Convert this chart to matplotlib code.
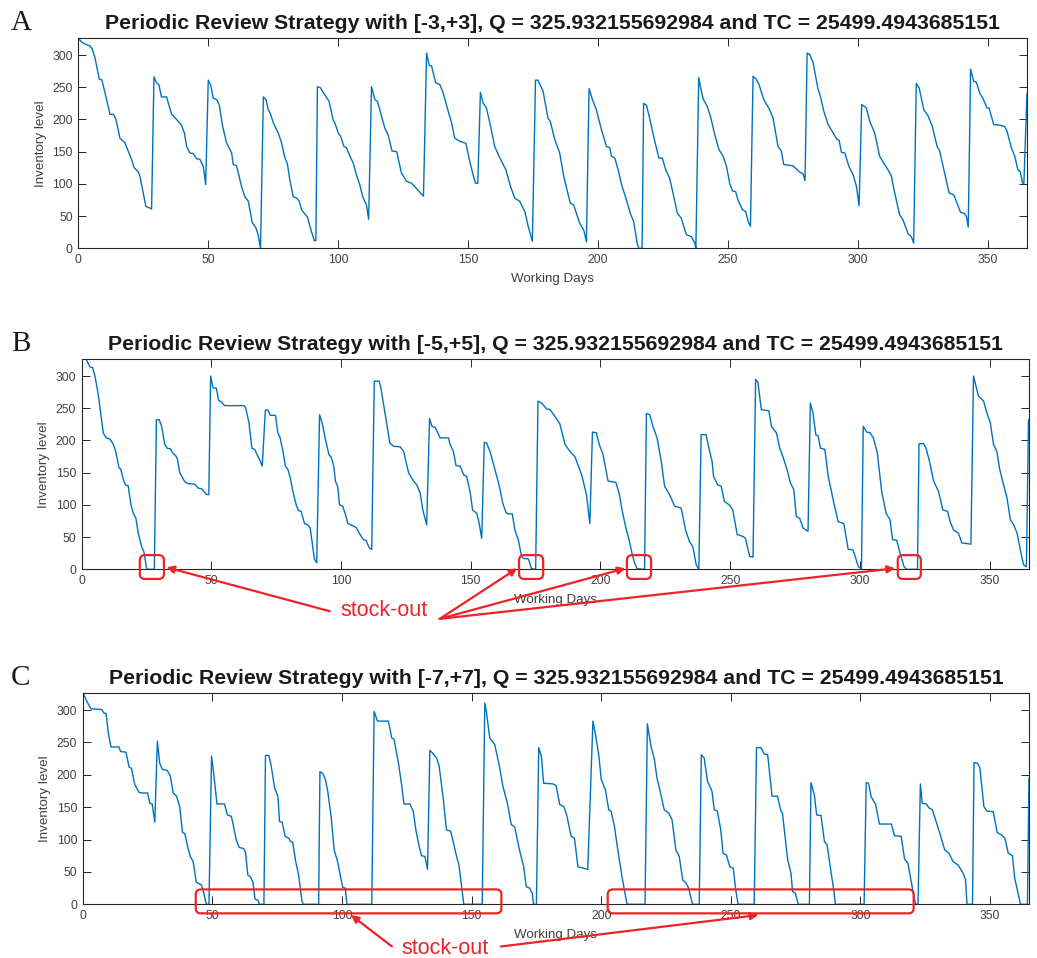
import matplotlib
matplotlib.use('Agg')
import matplotlib.pyplot as plt
from matplotlib.patches import FancyBboxPatch

# Order quantity and total cost shown in every title
Q = 325.932155692984
TC = 25499.4943685151

WINDOWS = ['[-3,+3]', '[-5,+5]', '[-7,+7]']
PANEL_LETTERS = ['A', 'B', 'C']
X_TICKS = [0, 50, 100, 150, 200, 250, 300, 350]
Y_TICKS = [0, 50, 100, 150, 200, 250, 300]

# (working day, inventory level)
LEVELS_A = [
    (0, 326), (1.3, 320), (3.2, 316), (4.5, 314), (5.4, 309), (6.4, 296), (8.1, 262), (9, 262),
    (10.3, 241), (12.2, 208), (13.5, 208), (14.5, 200), (16, 171), (17.9, 164), (20.5, 138),
    (21.5, 125), (23, 119), (23.7, 112), (26, 65), (27.8, 62), (28.2, 61),
    (29.1, 266), (30.1, 257), (31, 254), (32, 235), (34, 235), (34.6, 226), (35.9, 208), (37.8, 200),
    (39.7, 191), (40.8, 179), (41.7, 158), (42.9, 148), (44.2, 147), (45.5, 139), (46.8, 138),
    (48.1, 127), (49, 99),
    (50, 261), (50.9, 254), (51.9, 233), (53.2, 231), (54.2, 223), (55.5, 190), (57, 164), (59, 148),
    (59.6, 130), (60.9, 128), (62.8, 96), (64.1, 80), (65.4, 73), (66.9, 40), (68.3, 32), (69.2, 21),
    (70.1, 0),
    (71.2, 235), (72.2, 231), (73.1, 215), (74, 208), (75, 195), (76.9, 179), (78.2, 164), (79.5, 140),
    (80.4, 132), (81.4, 106), (82.7, 80), (84, 78), (85, 73), (85.9, 60), (87.4, 52), (88.1, 49),
    (89.7, 26), (90.8, 12), (91.4, 12),
    (92, 251), (93.2, 249), (94.2, 242), (95.5, 234), (96.5, 228), (98.1, 198), (98.7, 195), (100, 179),
    (100.9, 174), (102.2, 158), (103.2, 156), (104.5, 143), (105.8, 132), (107, 114), (108.3, 99),
    (109.4, 80), (110.9, 67), (111.7, 45),
    (112.8, 251), (114.1, 231), (115.1, 228), (116, 215), (117.9, 187), (119.2, 176), (120.7, 151),
    (122.5, 150), (124.3, 117), (126.3, 104), (128.2, 101), (130.1, 93), (131.4, 87), (132.8, 81),
    (134, 303), (135, 284), (135.9, 283), (137.5, 257), (139.1, 254), (140.4, 241), (142.3, 213),
    (143.6, 195), (144.8, 171), (146.8, 166), (149.1, 163), (150.6, 135), (151.9, 114), (152.8, 101),
    (153.7, 101),
    (154.7, 242), (155.7, 226), (157, 218), (158.6, 190), (160.2, 158), (162.2, 140), (164.5, 122),
    (166.3, 96), (167.9, 78), (169.8, 73), (171.8, 57), (173.1, 34), (174.7, 11),
    (175.9, 261), (176.9, 261), (178.2, 249), (178.8, 244), (180.7, 202), (181.6, 197), (183.3, 169),
    (185.2, 148), (186.8, 111), (189.3, 70), (190.6, 67), (192.9, 39), (194.5, 28), (195.5, 10),
    (196.5, 248), (197.8, 231), (199.3, 215), (201.3, 184), (203.2, 158), (204.5, 156), (205.1, 143),
    (206.4, 140), (207.7, 122), (209, 99), (210.9, 75), (212.4, 54), (213.7, 41), (215, 8),
    (215.6, 0), (216.9, 0),
    (217.5, 225), (218.6, 222), (219.8, 202), (221.8, 166), (223.4, 140), (224.7, 140), (226, 122),
    (227.5, 109), (228.8, 86), (230.5, 54), (232, 47), (233.3, 29), (234, 21), (235.9, 18),
    (237.2, 8), (237.6, 0),
    (238.7, 265), (239.7, 244), (240.5, 231), (241.9, 221), (243.2, 205), (244.9, 176), (246.5, 153),
    (248.1, 143), (249.4, 127), (250.6, 101), (251.7, 89), (252.9, 88), (253.8, 75), (255.5, 60),
    (256.8, 57), (257.7, 42), (258.6, 34),
    (259.6, 267), (260.9, 262), (261.9, 254), (263.7, 231), (266, 215), (267.3, 202), (269.2, 158),
    (270.5, 151), (271.4, 130), (273.1, 129), (275, 128), (276.3, 123), (277.6, 118), (278.8, 116),
    (279.6, 105),
    (280.4, 303), (281.4, 301), (282.7, 288), (284.6, 247), (285.5, 236), (286.8, 213), (288.5, 192),
    (290.4, 179), (291.9, 169), (292.7, 168), (293.6, 149), (294.9, 148), (296.5, 127), (298.1, 114),
    (299.4, 96), (300.4, 66),
    (301.4, 223), (303.2, 218), (304.5, 197), (306.4, 179), (308.3, 143), (309.9, 132), (311.5, 122),
    (312.8, 112), (314.1, 86), (316, 52), (317.3, 44), (319.2, 23), (320.5, 18), (321.4, 8),
    (322.4, 256), (323.5, 249), (325.3, 215), (327, 205), (328.6, 189), (330.4, 158), (331.4, 151),
    (333.3, 117), (335, 86), (336.8, 83), (337.8, 73), (339.4, 56), (341, 54), (341.7, 49), (342.4, 33),
    (343.3, 278), (344.5, 259), (345.5, 258), (346.8, 241), (348.1, 232), (349.6, 218), (350.4, 218),
    (352.2, 192), (354.5, 191), (356.4, 189), (357.3, 182), (359, 156), (360.3, 143), (361.5, 122),
    (362.4, 119), (363.3, 101), (363.8, 101), (365, 240),
]

LEVELS_B = [
    (0, 326), (1.7, 326), (3.2, 314), (4.2, 313), (5.1, 300), (6.4, 271), (7.4, 240), (8.3, 212),
    (9.4, 204), (10.9, 202), (12.2, 194), (13.1, 183), (14.4, 157), (15, 156), (16.3, 136), (17.1, 130),
    (17.9, 130), (19, 100), (19.9, 87), (20.9, 79), (21.8, 56), (23.1, 35), (24, 27), (25, 2),
    (25.3, 0), (28, 0),
    (28.8, 232), (29.9, 232), (30.8, 222), (32, 194), (32.9, 188), (34.2, 187), (35, 181), (36.3, 176),
    (36.9, 171), (37.8, 150), (39.7, 136), (41, 133), (43.6, 132), (44.9, 126), (46.2, 125),
    (47.1, 121), (48.1, 116), (49, 116),
    (49.7, 300), (50.6, 282), (51.9, 281), (52.8, 262), (53.8, 260), (55.1, 254), (62.6, 254),
    (63.2, 251), (64.5, 227), (65.6, 188), (66.7, 186), (67.6, 178), (68.6, 170), (69.6, 160),
    (70.8, 247), (71.8, 247), (72.7, 239), (74.7, 239), (75.6, 212), (76.5, 204), (77.6, 183),
    (78.5, 160), (79.5, 155), (80.4, 142), (81.4, 121), (82.7, 100), (83.6, 91), (84.6, 90),
    (85.9, 71), (87.2, 69), (88.1, 64), (89.7, 16), (90.6, 10),
    (91.7, 240), (92.7, 227), (94, 201), (95.3, 178), (96.2, 174), (97.2, 160), (97.8, 137),
    (98.7, 128), (99.4, 100), (100.6, 98), (101.7, 85), (102.6, 71), (103.8, 69), (105.8, 65),
    (107, 56), (108.6, 46), (109.6, 45), (110.9, 33), (111.8, 31),
    (112.8, 292), (114.7, 292), (115.4, 280), (117, 240), (118.8, 196), (120.2, 191), (122.8, 190),
    (124.1, 183), (126, 150), (127.9, 137), (129.2, 131), (130.5, 118), (131.5, 92), (133, 69),
    (134.1, 234), (135, 222), (136.3, 220), (138.2, 204), (141.4, 204), (142, 194), (143.3, 183),
    (144.3, 161), (145.9, 160), (147.2, 147), (148.4, 144), (149.7, 121), (150.7, 92), (152.3, 87),
    (153.2, 72), (154.2, 48),
    (155.2, 197), (156.1, 196), (157.4, 183), (159.3, 155), (161, 129), (162.3, 103), (163.6, 88),
    (164.5, 86), (166, 86), (167, 61), (168.3, 46), (169.6, 20), (170.2, 17), (172.2, 16), (172.8, 9),
    (173.4, 1), (175, 0),
    (175.9, 261), (177.3, 258), (179.2, 249), (180.5, 248), (182, 240), (184.3, 226), (186.3, 194),
    (188.2, 183), (190.1, 175), (191.8, 157), (192.7, 147), (194.6, 116), (195.9, 71),
    (196.9, 213), (198.4, 212), (199.5, 194), (201, 178), (202.9, 137), (205.9, 135), (207.2, 118),
    (208.4, 90), (209.7, 66), (211, 46), (212.3, 22), (213.2, 9), (214.1, 1), (217, 0),
    (217.7, 242), (219, 240), (220.2, 222), (221.8, 204), (223.4, 168), (224.7, 129), (226.6, 116),
    (228.6, 98), (231.1, 95), (232.8, 61), (234.3, 43), (235.6, 35), (236.9, 7), (237.9, 0),
    (238.8, 209), (240.7, 209), (241.8, 188), (243, 168), (243.6, 144), (245.2, 131), (246.5, 129),
    (247.8, 105), (249.7, 100), (251, 92), (252.7, 54), (254.9, 51), (255.9, 48), (257.5, 20),
    (258.8, 19),
    (259.8, 295), (260.7, 290), (262, 248), (263.3, 247), (264.9, 246), (265.9, 222), (267.8, 212),
    (269.1, 188), (270.3, 175), (271.9, 155), (273.2, 134), (274.5, 124), (275.5, 82), (276.8, 79),
    (278.1, 64), (280, 59),
    (280.9, 258), (281.9, 243), (283, 209), (283.9, 207), (284.8, 188), (286.5, 186), (287.8, 144),
    (289.7, 108), (291.6, 74), (293.8, 71), (295.5, 31), (297.4, 30), (299.4, 4), (300.6, 1),
    (301.3, 222), (302.6, 213), (303.9, 212), (305.2, 204), (306.7, 181), (308.4, 121), (310.1, 87),
    (311.6, 77), (312.6, 46), (314.2, 45), (315.5, 25), (317, 4), (318, 0), (322.2, 0),
    (322.8, 195), (324.5, 195), (325.5, 188), (326.8, 168), (328.4, 137), (330.3, 121), (332, 92),
    (333.8, 90), (334.8, 74), (336.1, 61), (338, 56), (339.3, 41), (342.8, 39),
    (343.8, 300), (345.7, 269), (347.7, 261), (348.7, 246), (350.3, 227), (351.5, 194), (352.8, 183),
    (353.9, 155), (355.4, 131), (356.7, 111), (358, 77), (359.3, 69), (360.6, 56), (362.1, 25),
    (363.1, 7), (364.2, 4), (365, 232),
]

LEVELS_C = [
    (0, 328), (1.5, 314), (3.2, 302), (7.3, 301), (8.3, 295), (9, 295), (9.9, 264), (10.9, 243),
    (14, 243), (14.6, 236), (16.7, 235), (17.9, 212), (18.8, 210), (20.1, 185), (21.7, 173),
    (22.7, 172), (25, 172), (25.9, 156), (26.8, 155), (27.8, 127),
    (28.8, 252), (29.7, 218), (30.8, 208), (32.6, 207), (33.8, 198), (34.9, 172), (36.2, 167),
    (37.4, 151), (38.5, 111), (39.4, 109), (40.6, 87), (41.5, 74), (42.6, 66), (43.8, 34), (44.9, 32),
    (45.8, 30), (46.7, 17), (47.7, 0), (48.7, 0),
    (49.7, 229), (50.5, 203), (51.8, 155), (54.7, 155), (55.8, 138), (57.3, 136), (57.9, 126),
    (59.2, 100), (60.3, 88), (62.1, 86), (62.8, 80), (63.7, 45), (64.6, 43), (65.6, 35), (66.5, 8),
    (67.6, 6), (68.2, 0), (69.9, 0),
    (70.5, 230), (71.8, 230), (72.7, 214), (74, 180), (75.3, 167), (75.9, 128), (76.9, 127),
    (78.1, 105), (79.5, 102), (80.1, 97), (81, 96), (82.1, 67), (83.3, 45), (84.6, 4), (85.1, 0),
    (91, 0),
    (91.5, 205), (92.6, 202), (93.6, 193), (94.5, 175), (95.8, 136), (97, 84), (98.3, 66), (99.2, 48),
    (100.3, 26), (101.3, 25), (101.9, 0), (111.5, 0),
    (112.4, 298), (113.7, 283), (117.9, 283), (119.2, 257), (120.1, 255), (121.8, 218), (123.1, 182),
    (123.9, 155), (126.2, 155), (127.5, 144), (128.5, 115), (129.8, 89), (130.7, 75), (132, 74),
    (133, 54),
    (133.9, 238), (135.5, 231), (136.5, 226), (137.5, 213), (139.1, 162), (140.3, 115), (141.9, 113),
    (142.9, 97), (144.2, 74), (145.1, 61), (146.4, 20), (147, 0), (154.1, 0),
    (155.1, 311), (155.7, 298), (157, 257), (158.9, 247), (160.6, 216), (162.1, 182), (163.8, 156),
    (165.3, 123), (166.6, 120), (168.3, 87), (170.1, 58), (171.1, 27), (172.4, 25), (173.4, 17),
    (173.9, 0), (175, 0),
    (175.9, 242), (176.9, 229), (177.8, 187), (181.4, 186), (182.6, 183), (184, 154), (185.6, 151),
    (186.8, 136), (188.4, 105), (189.7, 102), (191, 58), (192.9, 56), (194.8, 54),
    (196.8, 283), (198, 257), (199.1, 229), (200, 193), (201.6, 177), (202.9, 146), (203.8, 144),
    (205.1, 120), (206.4, 84), (208, 43), (209.8, 3), (210.2, 0), (216.9, 0),
    (217.8, 279), (219.2, 244), (220.5, 224), (221.5, 195), (222.7, 175), (224.3, 146), (226, 141),
    (227.3, 131), (228.8, 84), (230.1, 74), (231.4, 38), (232.7, 33), (233.7, 25), (235.2, 0),
    (237.8, 0),
    (238.6, 231), (239.7, 226), (241, 190), (242.7, 175), (243.6, 146), (244.8, 144), (246.1, 115),
    (247, 79), (248.3, 76), (249.6, 58), (250.9, 56), (251.9, 22), (252.8, 0), (259, 0),
    (259.9, 242), (261.6, 242), (262.9, 232), (264.2, 231), (265.9, 167), (268, 167), (269.3, 144),
    (269.9, 141), (271.9, 69), (273.2, 48), (273.8, 20), (274.9, 17), (276, 0), (280.3, 0),
    (280.9, 188), (282.2, 169), (283.1, 138), (284.8, 137), (286.1, 97), (287.1, 92), (288.7, 48),
    (289.7, 22), (290.3, 0), (301.4, 0),
    (302.2, 188), (303.1, 187), (304.1, 166), (305.8, 155), (307.3, 124), (311.9, 124), (313.1, 106),
    (315.7, 105), (317, 70), (318.3, 63), (319.6, 35), (320.6, 12), (321.3, 0), (322.2, 0),
    (323.1, 186), (323.8, 156), (325.4, 155), (326.4, 149), (327.7, 146), (329, 130), (330.8, 107),
    (332.5, 84), (334.1, 79), (335.7, 66), (337.6, 61), (339.6, 48), (340.5, 38), (341.1, 0),
    (343.2, 0),
    (343.8, 219), (345, 218), (346, 212), (347.6, 151), (348.8, 144), (351.2, 143), (352.7, 111),
    (354.4, 107), (355.7, 102), (357, 79), (358.6, 75), (359.5, 40), (360.8, 17), (361.7, 0),
    (364.4, 0), (365, 195),
]

# stock-out highlight boxes: (first day, last day, low level, high level)
STOCKOUT_B = [(22.4, 31.7, -15, 22), (168.6, 177.9, -15, 22), (210.2, 219.5, -15, 22),
              (314.6, 323.5, -15, 22)]
STOCKOUT_C = [(43.6, 161.5, -14, 23), (202.5, 320.5, -14, 23)]
# arrow tips (day, level) and where the arrows leave the label (figure fraction)
ARROWS_B = [((32.7, 3), (0.318, 0.362)), ((167.9, 1.5), (0.424, 0.354)),
            ((209.6, 1.5), (0.424, 0.354)), ((313.5, 1.5), (0.424, 0.354))]
ARROWS_C = [((103.5, -16.6), (0.378, 0.012)), ((260.6, -16.6), (0.483, 0.012))]

W, H = 1037, 958
LINE_BLUE = '#0072BD'
RED = '#EE2229'
AX_GRAY = '#262626'

fig = plt.figure(figsize=(W / 100, H / 100), dpi=100)

# axes rectangles in pixels: left, top, right, bottom
rects = [(78.3, 38.3, 1027, 248.3), (81.7, 359.3, 1028.5, 569.3), (82.7, 693.3, 1029, 904.3)]
series = [LEVELS_A, LEVELS_B, LEVELS_C]
axes = []

for i, (l, t, r, b) in enumerate(rects):
    ax = fig.add_axes([l / W, 1 - b / H, (r - l) / W, (b - t) / H])
    days, levels = zip(*series[i])
    ax.plot(days, levels, color=LINE_BLUE, lw=1.0)
    ax.set_xlim(0, 365)
    ax.set_ylim(0, Q)
    ax.set_xticks(X_TICKS)
    ax.set_yticks(Y_TICKS)
    ax.tick_params(direction='in', top=True, right=True, length=6, width=0.7,
                   colors=AX_GRAY, labelcolor='#404040', labelsize=8.7, pad=4)
    for sp in ax.spines.values():
        sp.set_color(AX_GRAY)
        sp.set_linewidth(0.8)
    for lab in ax.get_xticklabels() + ax.get_yticklabels():
        lab.set_family('Liberation Sans')
    ax.set_xlabel('Working Days', fontsize=9.6, color='#404040', family='Liberation Sans', labelpad=5)
    ax.set_ylabel('Inventory level', fontsize=9.6, color='#404040', family='Liberation Sans', labelpad=4)
    ax.set_title(f'Periodic Review Strategy with {WINDOWS[i]}, Q = {Q:.12f} and TC = {TC:.10f}',
                 fontsize=15.3, fontweight='bold', family='Liberation Sans', color='#1a1a1a', pad=7)
    fig.text(11 / W, 1 - (t - 8) / H, PANEL_LETTERS[i], family='Liberation Serif',
             fontsize=21, va='baseline', ha='left', color='#1a1a1a')
    axes.append(ax)


def draw_boxes(ax, boxes):
    to_fig = fig.transFigure.inverted()
    for d0, d1, v0, v1 in boxes:
        x0, y0 = to_fig.transform(ax.transData.transform((d0, v0)))
        x1, y1 = to_fig.transform(ax.transData.transform((d1, v1)))
        patch = FancyBboxPatch((x0, y0), x1 - x0, y1 - y0, transform=fig.transFigure,
                               boxstyle='round,pad=0,rounding_size=0.005',
                               mutation_aspect=W / H, fill=False, edgecolor=RED, lw=1.6,
                               clip_on=False)
        fig.add_artist(patch)


def draw_arrows(ax, arrows):
    for tip, start in arrows:
        ax.annotate('', xy=tip, xycoords='data', xytext=start, textcoords='figure fraction',
                    arrowprops=dict(arrowstyle='-|>', color=RED, lw=1.6, shrinkA=0, shrinkB=0,
                                    mutation_scale=11), annotation_clip=False)


draw_boxes(axes[1], STOCKOUT_B)
draw_arrows(axes[1], ARROWS_B)
fig.text(384 / W, 1 - 611 / H, 'stock-out', color=RED, fontsize=15.5, family='Liberation Sans',
         ha='center', va='center')

draw_boxes(axes[2], STOCKOUT_C)
draw_arrows(axes[2], ARROWS_C)
fig.text(445.5 / W, 1 - 948 / H, 'stock-out', color=RED, fontsize=15.5, family='Liberation Sans',
         ha='center', va='center')

fig.savefig('out.png', dpi=100, facecolor='white')
